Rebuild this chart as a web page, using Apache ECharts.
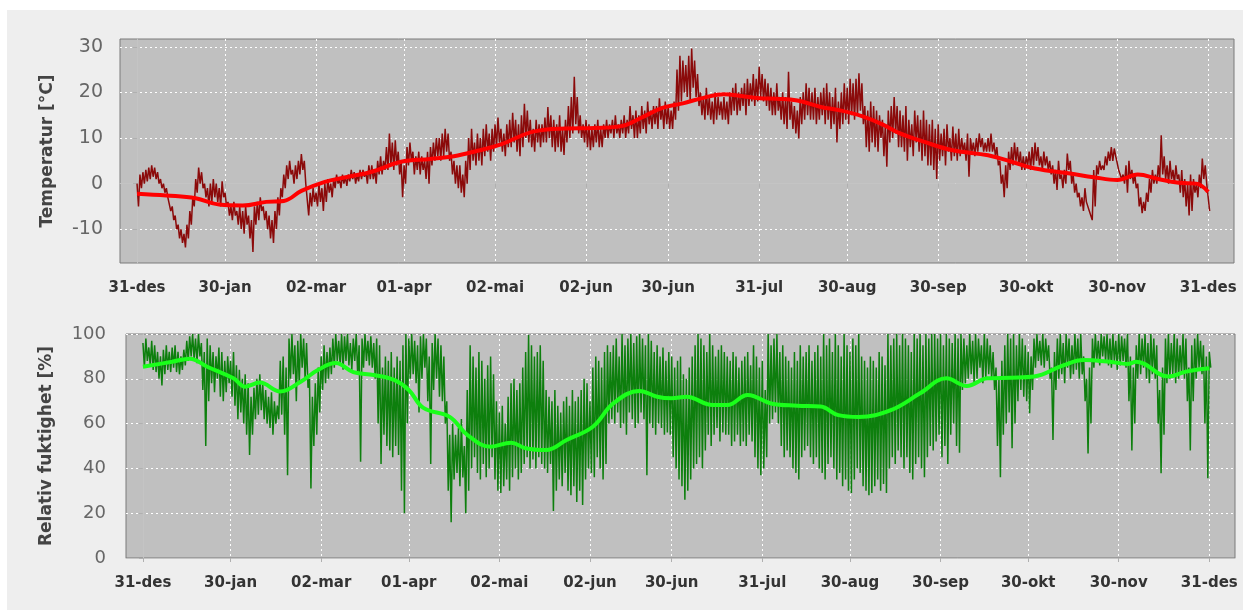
<!DOCTYPE html>
<html>
<head>
<meta charset="utf-8">
<script src="https://cdn.jsdelivr.net/npm/echarts@6/dist/echarts.min.js"></script>
<style>
  html, body { margin: 0; padding: 0; background: #ffffff; }
  #frame { position: absolute; left: 7px; top: 10px; width: 1236px; height: 600px; background: #eeeeee; }
  #box { position: absolute; left: 0; top: 0; width: 1247px; height: 614px; }
</style>
</head>
<body>
<div id="frame"></div>
<div id="box"></div>
<script>
// dager fra 31-des (dag 0) til 31-des (dag 365)
var tickDays = [0, 30, 61, 91, 122, 153, 181, 212, 242, 273, 303, 334, 365];
var tickLabels = ["31-des", "30-jan", "02-mar", "01-apr", "02-mai", "02-jun", "30-jun",
  "31-jul", "30-aug", "30-sep", "30-okt", "30-nov", "31-des"];

// temperatur, daglig maks / min (lest av bildet)
var tempHigh = [
  0, 2, 2.5, 3, 3.5, 4, 3.5, 2.5, 1, 0,
  -1, -3, -5, -7, -9, -10, -11, -9, -6, -3,
  1, 3.5, 2.5, 0, -1, 0, 1, 0, -1, 0.5,
  -2, -4, -5, -4, -6, -5, -6, -5, -7, -8,
  -5, -4, -3, -5, -6, -7, -8, -6, -3, -1,
  2, 4, 5, 3, 4, 5, 6.5, 5, 0, -2,
  -1, -2, 0, -1, 0, 1, 0, 1, 2, 1,
  2, 1.5, 2, 3, 2.5, 2, 3, 3, 2.5, 4,
  4, 3, 5, 6, 5, 8, 11, 9, 9.5, 7,
  5, 4, 8, 9, 7, 6, 7, 6, 5, 7,
  8, 9, 10, 10, 11, 12, 11, 7, 5, 4,
  4, 2, 5, 10, 12, 9, 11, 10, 12, 13,
  11, 12, 13, 14.5, 12, 11, 13, 14, 15.5, 14,
  13, 15, 17.5, 16, 14, 12, 14, 13, 13, 14.5,
  16.8, 15, 14, 13, 15, 12, 14, 17, 19, 23.4,
  19, 15, 13, 14, 13, 12, 13, 14, 12, 13,
  14, 13, 14, 15, 13, 14, 15, 14, 17, 15,
  16, 15, 17, 16, 18, 16, 17, 17, 18.7, 17,
  18, 17, 16, 18, 25, 28, 27, 26, 28, 29.6,
  27, 24, 20, 19, 21, 19, 18, 20, 19, 18,
  19, 18, 20, 21, 22, 20, 21, 22, 23, 22,
  24, 23, 25.6, 24, 23, 22, 21, 20, 22, 19,
  20, 19, 24.5, 18, 17, 16, 19, 20, 22, 21,
  20, 21, 19, 20, 21, 22, 20, 19, 21, 18,
  20, 22, 21, 23, 22, 23, 24.2, 22, 17, 16,
  18, 17, 16, 15, 14, 13, 16, 17, 19, 17,
  16, 15, 17, 14, 13, 16, 15, 14, 16, 14,
  13, 14, 12, 13, 11, 12, 13, 10, 12.5, 11,
  12, 10, 9, 11, 10, 9, 10, 11, 10, 9,
  10, 11, 9, 8, 5, 2, 4, 7, 8, 9,
  8, 7, 6, 6, 7, 8, 9, 8, 6, 7,
  6, 5, 4, 3, 5, 2, 3, 6.6, 5, 2,
  0, -2, -3, -1, -4, -6, 3, 4, 5, 4,
  6, 7, 8, 7.7, 6, 3, 2, 4, 5, 3,
  2, 0, -3, -4, -2, 1, 3, 2, 4, 10.6,
  6, 4, 5, 3, 4, 2, 3, 1, 0, 2,
  1, 0, 2, 5.5, 4, -3
];
var tempLow = [
  -5, -1, 0, 0.5, 1, 1.5, 1, 0, -1, -2,
  -3, -6, -8, -10, -12, -13, -14, -12, -9, -5,
  -2, 0, -1, -3, -5, -4, -3, -4, -5, -3,
  -5, -7, -8, -7, -9, -10, -11, -9, -12, -15,
  -9, -8, -6, -8, -10, -12, -13, -10, -7, -3,
  -1, 1, 2, 0, 1, 2, 3, 0, -7, -5,
  -4, -5, -4, -6, -4, -2, -3, -1, 0, -1,
  0, -0.5, 0.5, 1, 0, 0.5, 1, 1.5, 0, 1,
  1, 0, 2, 2, 3, 3, 4, 3, 4, 2,
  -3, 0, 4, 5, 2, 3, 2, 3, 1, 0,
  4, 5, 6, 5, 6, 7, 5, 2, 0, -1,
  -2, -3, 0, 3, 5, 4, 5, 4, 6, 7,
  5, 7, 8, 9, 7, 6, 8, 8, 9, 7,
  6, 8, 10, 9, 8, 7, 9, 8, 9, 9,
  10, 8, 7, 8, 7, 6.3, 9, 10, 11, 13,
  11, 10, 9, 8, 7.3, 8, 9, 8, 8, 10,
  10, 11, 10, 11, 10, 11, 10, 11, 12, 10,
  10, 11, 12, 11, 13, 12, 13, 12, 14, 12,
  13, 12, 12, 14, 16, 18, 20, 19, 18, 21,
  19, 17, 15, 14, 15, 14, 13, 14, 15, 14,
  14, 13, 15, 16, 15, 16, 17, 15, 17, 18,
  17, 18, 19, 18, 17, 16, 15, 15, 16, 14,
  13, 12, 14, 12, 11, 9.9, 13, 14, 15, 14,
  14, 13, 14, 15, 13, 14, 12, 13, 9, 12,
  13, 14, 13, 15, 14, 15, 16, 13, 8, 7,
  9, 8, 7, 10, 6, 3.7, 9, 10, 11, 8,
  8, 7, 5, 8, 6, 9, 7, 5, 6, 4,
  4, 3, 1, 5, 6, 4, 7, 5, 6, 5,
  6, 7, 5, 1.5, 7, 6, 7, 8, 7, 7,
  7, 7, 6, 4, 0, -3, -1, 3, 4, 5,
  4, 3, 3, 4, 3, 4, 5, 4, 3, 4,
  3, 2, 0, -1.4, 1, -1, 0, 3, 0, -2,
  -3, -5, -6, -4, -6, -8, -5, 2, 3, 3,
  4, 5, 5, 6, 3, 1, 0, -2, 1, 0,
  -1, -5, -6.5, -6, -4, -2, 0, 0, 1, 2,
  1, 0, 1, 0, 1, -2, -3, -5, -7, -6,
  -2, -3, -1, 1, 0, -6
];
// glidende middel temperatur
var tempTrendDays = [0, 10, 20, 28, 36, 44, 50, 56, 64, 72, 80, 90, 100, 108, 116, 124, 135, 146, 156, 165,
  172, 179, 186, 193, 200, 206, 212, 218, 225, 233, 240, 247, 254, 260, 268, 278, 290, 298, 306, 318,
  326, 334, 341, 348, 355, 361, 365];
var tempTrend = [-2.2, -2.6, -3.2, -4.6, -4.8, -4.0, -3.8, -1.6, 0.4, 1.5, 2.6, 4.8, 5.4, 6.0, 7.2, 8.6, 11.4, 12.1, 12.2, 12.6,
  14.5, 16.6, 17.6, 18.8, 19.6, 19.2, 18.7, 18.6, 18.2, 16.8, 16.0, 14.8, 13.0, 11.0, 9.2, 7.3, 6.2, 4.8, 3.3, 2.2,
  1.4, 0.8, 2.0, 1.0, 0.2, 0.0, -1.8];

// relativ fuktighet, daglig maks / min
var humHigh = [
  96, 98, 94, 97, 95, 92, 90, 93, 95, 92,
  94, 95, 92, 90, 93, 97, 99, 100, 98, 100,
  96, 92, 98, 95, 92, 90, 94, 92, 88, 90,
  88, 92, 86, 84, 80, 82, 78, 72, 76, 80,
  82, 78, 75, 72, 74, 70, 68, 88, 90, 85,
  98, 100, 95, 97, 100, 98, 96, 80, 72, 78,
  85, 90, 95, 92, 94, 98, 100, 97, 100, 99,
  100, 96, 98, 100, 95, 98, 100, 97, 99, 96,
  98, 95, 85, 90, 88, 92, 85, 90, 88, 95,
  100, 98, 100, 97, 95, 99, 100, 98, 90, 96,
  100, 98, 95, 90, 70, 55, 60, 55, 58, 62,
  50, 75, 95, 90, 85, 92, 88, 80, 86, 90,
  82, 70, 65, 68, 60, 72, 78, 80, 75, 78,
  85, 92, 99.6, 95, 90, 92, 95, 88, 75, 72,
  70, 75, 68, 65, 70, 72, 68, 75, 70, 72,
  75, 80, 78, 70, 85, 90, 88, 85, 92, 95,
  92, 95, 98, 90, 100, 95, 98, 100, 96, 99,
  100, 98, 95, 100, 97, 92, 95, 90, 94, 88,
  92, 90, 85, 88, 90, 82, 80, 85, 90, 95,
  100, 98, 95, 92, 100, 95, 90, 93, 95, 92,
  90, 88, 92, 90, 85, 88, 90, 92, 86, 95,
  90, 85, 88, 75, 100, 95, 98, 100, 92, 95,
  90, 88, 85, 92, 88, 95, 90, 92, 95, 88,
  92, 95, 90, 100, 95, 98, 92, 100, 95, 90,
  100, 95, 92, 98, 95, 100, 90, 88, 85, 90,
  88, 85, 92, 90, 86, 100, 95, 98, 100, 95,
  100, 98, 95, 92, 100, 98, 100, 95, 100, 98,
  100, 100, 98, 100, 95, 100, 98, 96, 100, 98,
  100, 98, 95, 100, 97, 100, 98, 95, 100, 98,
  95, 92, 85, 80, 88, 95, 100, 98, 100, 95,
  100, 98, 95, 92, 90, 98, 100, 97, 100, 98,
  95, 85, 92, 98, 100, 96, 100, 98, 95, 100,
  98, 100, 90, 80, 85, 98, 100, 97, 100, 99,
  100, 98, 100, 97, 100, 99, 98, 100, 90, 85,
  95, 100, 98, 100, 96, 100, 98, 95, 75, 85,
  98, 100, 96, 100, 98, 95, 100, 98, 85, 95,
  98, 100, 97, 95, 90, 92
];
var humLow = [
  85, 88, 86, 84, 83, 80, 77, 82, 84, 83,
  85, 83, 82, 84, 86, 88, 90, 89, 87, 90,
  75, 50, 70, 78, 74, 80, 72, 70, 74, 78,
  72, 68, 62, 65, 60, 55, 46, 55, 62, 64,
  66, 62, 60, 58, 55, 60, 62, 64, 55, 37,
  80, 82, 70, 78, 85, 80, 76, 31, 50, 55,
  65, 75, 78, 80, 82, 85, 88, 86, 84, 88,
  86, 84, 88, 82, 43, 85, 88, 86, 85, 80,
  60, 42, 55, 50, 48, 45, 50, 46, 30, 20,
  60, 80, 82, 78, 65, 80, 85, 70, 42, 75,
  80, 72, 70, 60, 30, 16, 35, 38, 32, 36,
  20, 30, 40, 45, 38, 35, 42, 36, 40, 45,
  35, 30, 29, 32, 35, 30, 36, 40, 35, 38,
  42, 45, 40, 44, 40, 45, 42, 40, 38, 42,
  21, 30, 35, 32, 38, 30, 28, 32, 25, 30,
  23.7, 35, 40, 38, 36, 45, 40, 35, 42, 60,
  62, 60, 65, 58, 60, 55, 65, 62, 58, 60,
  65, 62, 37, 60, 58, 55, 60, 58, 55, 56,
  55, 45, 40, 35, 32, 26, 30, 35, 40, 42,
  45, 40, 48, 55, 50, 55, 58, 52, 56, 55,
  55, 50, 52, 55, 50, 52, 50, 55, 52, 45,
  40, 37, 40, 45, 60, 62, 65, 60, 50, 45,
  48, 45, 40, 38, 35, 45, 48, 50, 45, 42,
  45, 40, 38, 35, 42, 45, 40, 35, 38, 32,
  35, 30, 29, 35, 40, 38, 32, 30, 28, 29,
  32, 35, 30, 33, 29, 40, 45, 42, 48, 45,
  40, 45, 38, 35, 42, 45, 40, 36, 45, 50,
  48, 52, 55, 45, 50, 42, 55, 60, 50, 47,
  75, 78, 80, 82, 78, 80, 85, 78, 80, 82,
  80, 75, 50, 36, 55, 60, 65, 49, 60, 70,
  75, 72, 70, 64.6, 75, 85, 88, 86, 85, 88,
  80, 52.7, 75, 80, 82, 78, 85, 80, 82, 84,
  80, 82, 70, 46.7, 60, 85, 88, 86, 90, 88,
  86, 85, 88, 84, 86, 88, 85, 70, 48, 60,
  80, 82, 85, 80, 78, 82, 80, 60, 37.8, 55,
  78, 80, 82, 78, 80, 82, 80, 70, 48, 70,
  80, 85, 82, 60, 35.6, 85
];
// glidende middel fuktighet
var humTrendDays = [0, 10, 16, 22, 31, 35, 40, 47, 54, 60, 66, 72, 79, 86, 91, 96, 105, 111, 119, 126,
  131, 138, 145, 154, 161, 170, 176, 181, 186, 195, 200, 207, 215, 224, 232, 238, 245, 256, 266, 275,
  282, 289, 297, 305, 315, 322, 331, 337, 340, 351, 357, 365];
var humTrend = [85.4, 87.6, 89, 85.4, 80.2, 76.5, 78.3, 74.3, 78.7, 84, 87, 83, 81.7, 79.5, 75, 67, 63, 55, 49.7, 51.5,
  49, 48.2, 52.7, 58.6, 69, 74.6, 72, 71.3, 72, 68.3, 68.3, 72.8, 69, 68, 67.6, 63.8, 63, 66, 73.5, 80.2,
  76.8, 80.2, 80.5, 81, 86, 88.4, 87.6, 86.6, 87.6, 81, 83.2, 84.7];

function zigzag(hi, lo) {
  var out = [];
  for (var d = 0; d < hi.length; d++) {
    out.push([d, hi[d]]);
    out.push([d + 0.5, lo[d]]);
  }
  return out;
}
function pairs(xs, ys) {
  return xs.map(function (x, i) { return [x, ys[i]]; });
}

var font = "DejaVu Sans";

function xAxisFor(gridIndex, offset) {
  return {
    type: "value",
    gridIndex: gridIndex,
    min: -5.8,
    max: 373.8,
    offset: offset,
    axisLine: { show: true, lineStyle: { color: "#c4c4c4", width: 1 } },
    axisTick: { show: true, length: 4, customValues: tickDays, lineStyle: { color: "#b0b0b0" } },
    axisLabel: {
      customValues: tickDays,
      margin: 10,
      fontFamily: font,
      fontSize: 15,
      fontWeight: "bold",
      color: "#333333",
      formatter: function (v) {
        var i = tickDays.indexOf(Math.round(v));
        return i >= 0 ? tickLabels[i] : "";
      }
    },
    splitLine: { show: true, lineStyle: { color: "#ffffff", type: [2, 3], width: 1 } }
  };
}

function yAxisFor(gridIndex, min, max, ticks, name, offset, fontSize, nameGap) {
  return {
    type: "value",
    gridIndex: gridIndex,
    min: min,
    max: max,
    offset: offset,
    name: name,
    nameLocation: "middle",
    nameRotate: 90,
    nameGap: nameGap,
    nameTextStyle: { fontFamily: font, fontSize: 17, fontWeight: "bold", color: "#444444" },
    axisLine: { show: true, lineStyle: { color: "#c4c4c4", width: 1 } },
    axisTick: { show: true, length: 4, customValues: ticks, lineStyle: { color: "#b0b0b0" } },
    axisLabel: { customValues: ticks, margin: 9, fontFamily: font, fontSize: fontSize, color: "#666666" },
    splitLine: { show: true, lineStyle: { color: "#ffffff", type: [2, 3], width: 1 } }
  };
}

var myChart = echarts.init(document.getElementById("box"), null, { renderer: "canvas" });

var option = {
  animation: false,
  backgroundColor: "transparent",
  grid: [
    { left: 120, top: 39, width: 1114, height: 224, show: true, backgroundColor: "#c0c0c0", borderColor: "#7a7a7a", borderWidth: 1 },
    { left: 126, top: 334, width: 1109, height: 224, show: true, backgroundColor: "#c0c0c0", borderColor: "#7a7a7a", borderWidth: 1 }
  ],
  xAxis: [xAxisFor(0, 8), xAxisFor(1, 8)],
  yAxis: [
    yAxisFor(0, -17.4, 31.7, [-10, 0, 10, 20, 30], "Temperatur [°C]", 8, 19, 56),
    yAxisFor(1, 0, 100, [0, 20, 40, 60, 80, 100], "Relativ fuktighet [%]", 11, 18, 60)
  ],
  series: [
    {
      type: "line", xAxisIndex: 0, yAxisIndex: 0, symbol: "none",
      data: zigzag(tempHigh, tempLow),
      lineStyle: { color: "#8b0a0a", width: 1.5 }
    },
    {
      type: "line", xAxisIndex: 0, yAxisIndex: 0, symbol: "none", smooth: 0.4,
      data: pairs(tempTrendDays, tempTrend),
      lineStyle: { color: "#ff0000", width: 4 }
    },
    {
      type: "line", xAxisIndex: 1, yAxisIndex: 1, symbol: "none",
      data: zigzag(humHigh, humLow),
      lineStyle: { color: "#0d7f0d", width: 1.5 }
    },
    {
      type: "line", xAxisIndex: 1, yAxisIndex: 1, symbol: "none", smooth: 0.4,
      data: pairs(humTrendDays, humTrend),
      lineStyle: { color: "#1aff1a", width: 4 }
    }
  ]
};

myChart.setOption(option);
</script>
</body>
</html>
